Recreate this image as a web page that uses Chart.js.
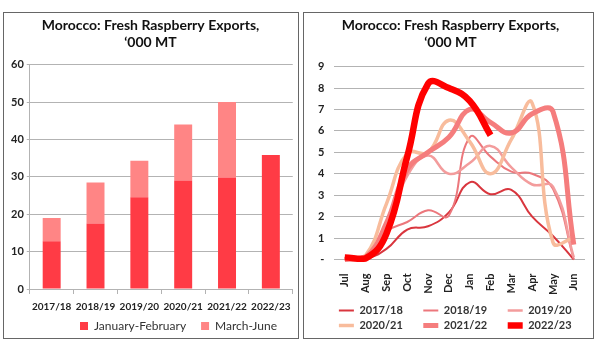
<!DOCTYPE html>
<html>
<head>
<meta charset="utf-8">
<script src="https://cdn.jsdelivr.net/npm/chart.js@4.4.1/dist/chart.umd.min.js"></script>
<style>
    body { margin: 0; background: #fff; width: 600px; height: 350px; position: relative; overflow: hidden; }
    .panel { position: absolute; border: 1px solid #666; box-sizing: border-box; background: #fff; }
    #p1 { left: 3px; top: 12px; width: 296px; height: 327px; }
    #p2 { left: 303px; top: 12px; width: 291px; height: 327px; }
    canvas { position: absolute; left: 0; top: 0; }
</style>
</head>
<body>
<div class="panel" id="p1"><canvas id="bar-chart" width="294" height="325"></canvas></div>
<div class="panel" id="p2"><canvas id="line-chart" width="289" height="325"></canvas></div>
<script>
// Sezonlar ve ay bazli ihracat (bin ton)
const seasons = ['2017/18', '2018/19', '2019/20', '2020/21', '2021/22', '2022/23'];
const janFeb = [12.8, 17.5, 24.5, 29.0, 29.8, 35.8];
const marJun = [6.2, 11.0, 9.8, 15.0, 20.2, 0];

const months = ['Jul', 'Aug', 'Sep', 'Oct', 'Nov', 'Dec', 'Jan', 'Feb', 'Mar', 'Apr', 'May', 'Jun'];
const s1718 = [0.1, 0.05, 0.5, 1.4, 1.55, 2.2, 3.6, 3.05, 3.25, 2.0, 1.1, 0];
const s1819 = [0.05, 0.05, 1.3, 1.75, 2.3, 2.05, 5.7, 4.8, 4.1, 4.0, 3.3, 0];
const s1920 = [0.05, 0.1, 1.5, 3.9, 4.85, 4.0, 4.5, 5.3, 4.3, 3.5, 3.4, 0.1];
const s2021 = [0, 0.2, 2.6, 4.95, 5.0, 6.5, 5.5, 4.0, 5.6, 7.3, 0.8, 1.0];
const s2122 = [0, 0.1, 1.7, 4.2, 5.0, 5.7, 7.0, 6.4, 5.9, 6.8, 6.9, 0.7];
const s2223 = [0.1, 0.05, 1.2, 4.8, 8.2, 8.0, 7.4, 5.8, null, null, null, null];

const titleText = ['Morocco: Fresh Raspberry Exports,', '\u2018000 MT'];
const fontFamily = 'Lato, "Liberation Sans", sans-serif';
const gridColor = '#b3b3b3';

Chart.defaults.font.family = fontFamily;
Chart.defaults.color = '#222';

// Lejanti yatayda kaydir (Excel'de lejant cizim alanina gore ortalaniyor)
function shiftLegend(dx) {
    return {
        id: 'shiftLegend',
        afterLayout(chart) {
            chart.legend.left += dx;
            chart.legend.right += dx;
        }
    };
}

const defaultLabels = Chart.defaults.plugins.legend.labels.generateLabels;

// Sol grafik: yigilmis sutunlar
new Chart(document.getElementById('bar-chart').getContext('2d'), {
    type: 'bar',
    data: {
        labels: seasons,
        datasets: [
            { label: 'January-February', data: janFeb, backgroundColor: '#ff3b45' },
            { label: 'March-June', data: marJun, backgroundColor: '#ff8585' }
        ]
    },
    options: {
        responsive: false,
        animation: false,
        layout: { padding: { left: 4, right: 5, top: 0, bottom: -4 } },
        datasets: { bar: { categoryPercentage: 1, barPercentage: 0.41 } },
        scales: {
            x: {
                stacked: true,
                grid: { offset: true, drawOnChartArea: false, color: gridColor, tickLength: 5 },
                border: { color: gridColor },
                ticks: { font: { size: 10, weight: 'bold' }, maxRotation: 0, autoSkip: false, padding: 7 }
            },
            y: {
                stacked: true,
                min: 0,
                max: 60,
                ticks: { stepSize: 10, font: { size: 11, weight: 'bold' }, padding: 3 },
                grid: { color: gridColor, tickLength: 3 },
                border: { color: gridColor }
            }
        },
        plugins: {
            title: {
                display: true,
                text: titleText,
                font: { size: 14, weight: 'bold' },
                color: '#111',
                padding: { top: 4, bottom: 14 }
            },
            legend: {
                position: 'bottom',
                labels: {
                    boxWidth: 8,
                    boxHeight: 8,
                    padding: 0,
                    font: { size: 12 },
                    color: '#333',
                    generateLabels: chart => defaultLabels(chart).map(item =>
                        Object.assign(item, { text: item.datasetIndex === 0 ? item.text + '\u2003\u2002' : item.text }))
                }
            },
            tooltip: { enabled: false }
        }
    },
    plugins: [shiftLegend(28)]
});

// Sag grafik: aylik sezon egrileri
function seasonLine(label, data, color, width, order) {
    return {
        label: label,
        data: data,
        borderColor: color,
        backgroundColor: color,
        borderWidth: width,
        pointRadius: 0,
        tension: 0.45,
        fill: false,
        clip: 8,
        order: order
    };
}

new Chart(document.getElementById('line-chart').getContext('2d'), {
    type: 'line',
    data: {
        labels: months,
        datasets: [
            seasonLine('2017/18', s1718, '#d9363e', 2, 5),
            seasonLine('2018/19', s1819, '#ec777c', 2, 4),
            seasonLine('2019/20', s1920, '#f39c9c', 2.5, 3),
            seasonLine('2020/21', s2021, '#f8bc9c', 3.5, 2),
            seasonLine('2021/22', s2122, '#f57d7d', 5, 1),
            seasonLine('2022/23', s2223, '#ff0000', 6.5, 0)
        ]
    },
    options: {
        responsive: false,
        animation: false,
        layout: { padding: { left: 4, right: 0, top: 0, bottom: -3 } },
        scales: {
            x: {
                offset: true,
                grid: { display: false },
                border: { color: gridColor },
                ticks: { font: { size: 11, weight: 'bold' }, minRotation: 90, maxRotation: 90, autoSkip: false, padding: 6 }
            },
            y: {
                min: 0,
                max: 9,
                ticks: {
                    stepSize: 1,
                    autoSkip: false,
                    font: { size: 11, weight: 'bold' },
                    padding: 10,
                    callback: v => v === 0 ? '-' : v
                },
                grid: { color: gridColor, drawTicks: false },
                border: { display: false }
            }
        },
        plugins: {
            title: {
                display: true,
                text: titleText,
                font: { size: 14, weight: 'bold' },
                color: '#111',
                padding: { top: 4, bottom: 16 }
            },
            legend: {
                position: 'bottom',
                labels: {
                    usePointStyle: true,
                    pointStyle: 'line',
                    pointStyleWidth: 15,
                    padding: 4,
                    font: { size: 11, weight: 'bold' },
                    color: '#333',
                    // metin sonuna bosluk: Excel'deki genis sutun araligi icin
                    generateLabels: chart => defaultLabels(chart).map(item => Object.assign(item, { text: item.text + '\u2003\u2003' })),
                    sort: (a, b) => a.datasetIndex - b.datasetIndex
                }
            },
            tooltip: { enabled: false }
        }
    },
    plugins: [shiftLegend(13)]
});
</script>
</body>
</html>
